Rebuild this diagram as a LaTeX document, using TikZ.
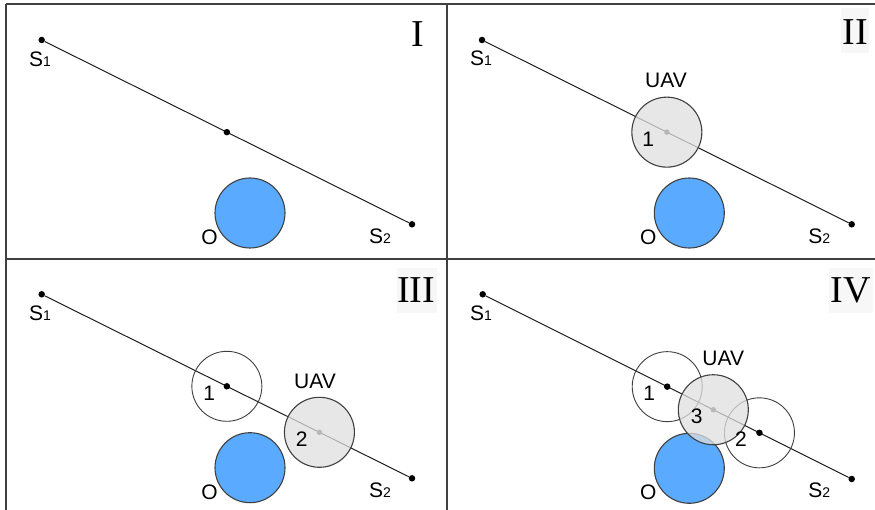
\documentclass[tikz,border=0pt]{standalone}
\usepackage{fontspec}
\setmainfont{Liberation Sans}
\newfontfamily\romfont{Liberation Serif}
\usetikzlibrary{calc}
\definecolor{obst}{RGB}{90,171,255}
\definecolor{edgec}{RGB}{64,64,64}
\definecolor{uavfill}{RGB}{224,224,224}
\definecolor{gdot}{RGB}{184,184,184}
\newcommand{\mysub}[1]{{\fontsize{14}{14}\selectfont #1}}
\tikzset{
 trackline/.style={draw=black!88, line width=1pt},
 dotb/.style={circle, fill=black, inner sep=0pt, minimum size=6.5pt},
 dotg/.style={circle, fill=gdot, inner sep=0pt, minimum size=5.5pt},
 obstacle/.style={circle, draw=edgec, line width=1.1pt, fill=obst, minimum size=70pt, inner sep=0pt},
 zone/.style={circle, draw=edgec, line width=0.9pt, minimum size=70pt, inner sep=0pt},
 uav/.style={circle, draw=edgec, line width=1.1pt, fill=uavfill, fill opacity=0.75, minimum size=70pt, inner sep=0pt},
 lbl/.style={anchor=base, inner sep=0pt, font=\fontsize{21}{21}\selectfont},
 roman/.style={inner sep=0pt, font=\romfont\fontsize{38}{38}\selectfont},
 rbox/.style={fill=black!3, draw=none},
 frame/.style={draw=black!75, line width=1.3pt}
}
\begin{document}
\begin{tikzpicture}[x=1pt,y=-1pt]
\useasboundingbox (0,0) rectangle (875,510);
\fill[white] (0,0) rectangle (875,510);
% frame
\coordinate (fTL) at (6,4);
\coordinate (fTR) at (875,4);
\coordinate (fBL) at (6,510);
\coordinate (fMT) at (447,4);
\coordinate (fMB) at (447,510);
\coordinate (fML) at (6,259);
\coordinate (fMR) at (875,259);
\draw[frame] (fTL) -- (fTR);
\draw[frame] (fTL) -- (fBL);
\draw[frame] (fMT) -- (fMB);
\draw[frame] (fML) -- (fMR);
% numeral backgrounds
\fill[rbox] (841,8) rectangle (869,53);
\fill[rbox] (397,268) rectangle (437,313);
\fill[rbox] (829,268) rectangle (873,313);

% ---------------- Panel I
\node[obstacle] (aO) at (250,213) {};
\node[dotb] (aS1) at (41.7,40) {};
\node[dotb] (aS2) at (412,224.3) {};
\draw[trackline] (aS1) -- (aS2);
\node[dotb] (aM) at ($(aS1)!0.5!(aS2)$) {};
\node[lbl] (aS1l) at (40,66.5) {S\mysub{1}};
\node[lbl] (aS2l) at (380,243.3) {S\mysub{2}};
\node[lbl] (aOl) at (209.5,244.5) {O};
\node[roman] (aR) at (417.7,34.5) {I};

% ---------------- Panel II
\node[obstacle] (bO) at (689.3,213) {};
\node[dotb] (bS1) at (482,40) {};
\node[dotb] (bS2) at (851.7,224.3) {};
\draw[trackline] (bS1) -- (bS2);
\node[uav] (bU) at ($(bS1)!0.5!(bS2)$) {};
\node[dotg] (bUd) at (bU.center) {};
\node[lbl] (bS1l) at (481,66) {S\mysub{1}};
\node[lbl] (bS2l) at (819.3,244) {S\mysub{2}};
\node[lbl] (bOl) at (648.3,244.5) {O};
\node[lbl] (bUl) at (666,87.3) {UAV};
\node[lbl] (b1) at (648.3,146.7) {1};
\node[roman] (bR) at (855.3,31.7) {II};

% ---------------- Panel III
\node[obstacle] (cO) at (250,467.7) {};
\node[dotb] (cS1) at (41.7,294.3) {};
\node[dotb] (cS2) at (412,478.3) {};
\draw[trackline] (cS1) -- (cS2);
\node[zone] (cZ1) at ($(cS1)!0.5!(cS2)$) {};
\node[dotb] (cZ1d) at (cZ1.center) {};
\node[uav] (cU) at ($(cS1)!0.75!(cS2)$) {};
\node[dotg] (cUd) at (cU.center) {};
\node[lbl] (cS1l) at (40,320.7) {S\mysub{1}};
\node[lbl] (cS2l) at (380,497.3) {S\mysub{2}};
\node[lbl] (cOl) at (209.5,499) {O};
\node[lbl] (cUl) at (315,388.3) {UAV};
\node[lbl] (c1) at (209.3,400) {1};
\node[lbl] (c2) at (301.7,446.7) {2};
\node[roman] (cR) at (416,290) {III};

% ---------------- Panel IV
\node[obstacle] (dO) at (689.3,468.3) {};
\node[dotb] (dS1) at (482.7,294.3) {};
\node[dotb] (dS2) at (851.7,479) {};
\draw[trackline] (dS1) -- (dS2);
\node[zone] (dZ1) at ($(dS1)!0.5!(dS2)$) {};
\node[dotb] (dZ1d) at (dZ1.center) {};
\node[zone] (dZ2) at ($(dS1)!0.75!(dS2)$) {};
\node[dotb] (dZ2d) at (dZ2.center) {};
\node[uav] (dU) at ($(dS1)!0.625!(dS2)$) {};
\node[dotg] (dUd) at (dU.center) {};
\node[lbl] (dS1l) at (481,320.3) {S\mysub{1}};
\node[lbl] (dS2l) at (819.3,497.7) {S\mysub{2}};
\node[lbl] (dOl) at (648.3,499.3) {O};
\node[lbl] (dUl) at (723.3,365.7) {UAV};
\node[lbl] (d1) at (649.3,400) {1};
\node[lbl] (d3) at (696.7,423.3) {3};
\node[lbl] (d2) at (741,446.7) {2};
\node[roman] (dR) at (851,290.7) {IV};
\end{tikzpicture}
\end{document}
